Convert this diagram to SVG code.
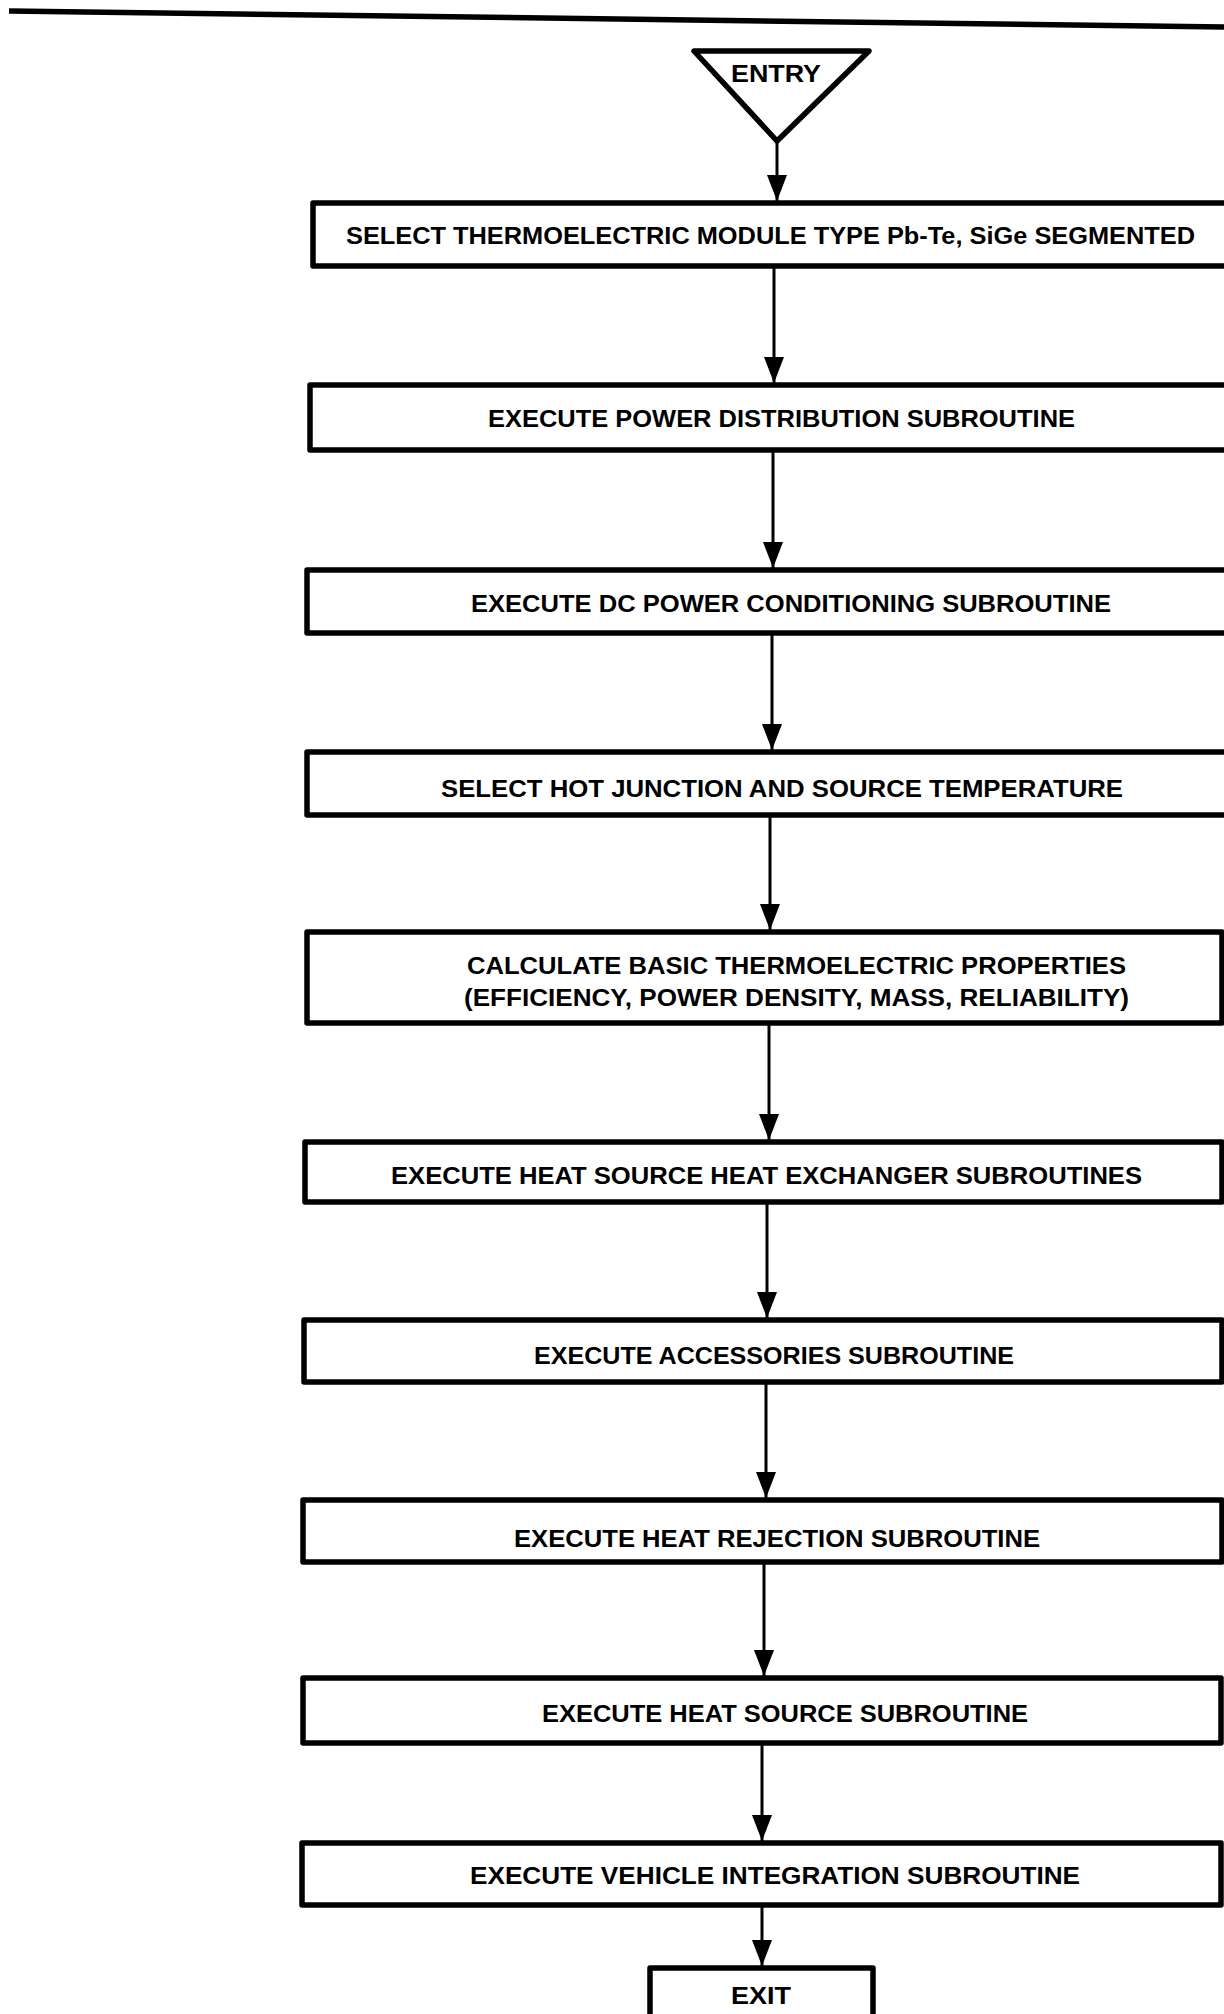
<svg xmlns="http://www.w3.org/2000/svg" width="1224" height="2014" viewBox="0 0 1224 2014">
<style>
.bg{fill:#ffffff}
.box{fill:#ffffff;stroke:#000;stroke-width:5.5;stroke-linejoin:round}
.lbl{font-family:"Liberation Sans",Arial,sans-serif;font-weight:bold;font-size:24px;fill:#000}
.conn line{stroke:#000;stroke-width:3}
</style>
<defs>
<marker id="ah" markerUnits="userSpaceOnUse" viewBox="0 0 26 20" refX="26" refY="10" markerWidth="26" markerHeight="20" orient="auto">
<path d="M0,0 L26,10 L0,20 z" fill="#000"/>
</marker>
</defs>
<rect class="bg" x="0" y="0" width="1224" height="2014"/>
<line x1="9" y1="11" x2="1226" y2="27" stroke="#000" stroke-width="5.5"/>

<g id="entry">
<polygon class="box" points="694,51 869,51 777,141"/>
<text class="lbl" x="731" y="82" textLength="90" lengthAdjust="spacingAndGlyphs">ENTRY</text>
</g>

<g id="n1">
<rect class="box" x="313" y="203" width="925" height="63"/>
<text class="lbl" x="346" y="244" textLength="849" lengthAdjust="spacingAndGlyphs">SELECT THERMOELECTRIC MODULE TYPE Pb-Te, SiGe SEGMENTED</text>
</g>
<g id="n2">
<rect class="box" x="310" y="385" width="928" height="65"/>
<text class="lbl" x="488" y="427" textLength="587" lengthAdjust="spacingAndGlyphs">EXECUTE POWER DISTRIBUTION SUBROUTINE</text>
</g>
<g id="n3">
<rect class="box" x="307" y="570" width="931" height="63"/>
<text class="lbl" x="471" y="612" textLength="640" lengthAdjust="spacingAndGlyphs">EXECUTE DC POWER CONDITIONING SUBROUTINE</text>
</g>
<g id="n4">
<rect class="box" x="307" y="752" width="931" height="63"/>
<text class="lbl" x="441" y="797" textLength="682" lengthAdjust="spacingAndGlyphs">SELECT HOT JUNCTION AND SOURCE TEMPERATURE</text>
</g>
<g id="n5">
<rect class="box" x="307" y="932" width="915" height="91"/>
<text class="lbl" x="467" y="974" textLength="659" lengthAdjust="spacingAndGlyphs">CALCULATE BASIC THERMOELECTRIC PROPERTIES</text>
<text class="lbl" x="464" y="1006" textLength="665" lengthAdjust="spacingAndGlyphs">(EFFICIENCY, POWER DENSITY, MASS, RELIABILITY)</text>
</g>
<g id="n6">
<rect class="box" x="305" y="1142" width="917" height="60"/>
<text class="lbl" x="391" y="1184" textLength="751" lengthAdjust="spacingAndGlyphs">EXECUTE HEAT SOURCE HEAT EXCHANGER SUBROUTINES</text>
</g>
<g id="n7">
<rect class="box" x="304" y="1320" width="918" height="62"/>
<text class="lbl" x="534" y="1364" textLength="480" lengthAdjust="spacingAndGlyphs">EXECUTE ACCESSORIES SUBROUTINE</text>
</g>
<g id="n8">
<rect class="box" x="303" y="1500" width="919" height="62"/>
<text class="lbl" x="514" y="1547" textLength="526" lengthAdjust="spacingAndGlyphs">EXECUTE HEAT REJECTION SUBROUTINE</text>
</g>
<g id="n9">
<rect class="box" x="303" y="1678" width="918" height="65"/>
<text class="lbl" x="542" y="1722" textLength="486" lengthAdjust="spacingAndGlyphs">EXECUTE HEAT SOURCE SUBROUTINE</text>
</g>
<g id="n10">
<rect class="box" x="302" y="1843" width="919" height="62"/>
<text class="lbl" x="470" y="1884" textLength="610" lengthAdjust="spacingAndGlyphs">EXECUTE VEHICLE INTEGRATION SUBROUTINE</text>
</g>
<g id="exit">
<rect class="box" x="650" y="1968" width="223" height="60"/>
<text class="lbl" x="731" y="2004" textLength="60" lengthAdjust="spacingAndGlyphs">EXIT</text>
</g>

<g id="connectors" class="conn">
<line x1="777" y1="141" x2="777" y2="201" marker-end="url(#ah)"/>
<line x1="774" y1="266" x2="774" y2="383" marker-end="url(#ah)"/>
<line x1="773" y1="450" x2="773" y2="568" marker-end="url(#ah)"/>
<line x1="772" y1="633" x2="772" y2="750" marker-end="url(#ah)"/>
<line x1="770" y1="815" x2="770" y2="930" marker-end="url(#ah)"/>
<line x1="769" y1="1023" x2="769" y2="1140" marker-end="url(#ah)"/>
<line x1="767" y1="1202" x2="767" y2="1318" marker-end="url(#ah)"/>
<line x1="766" y1="1382" x2="766" y2="1498" marker-end="url(#ah)"/>
<line x1="764" y1="1562" x2="764" y2="1676" marker-end="url(#ah)"/>
<line x1="762" y1="1743" x2="762" y2="1841" marker-end="url(#ah)"/>
<line x1="762" y1="1905" x2="762" y2="1966" marker-end="url(#ah)"/>
</g>
</svg>
